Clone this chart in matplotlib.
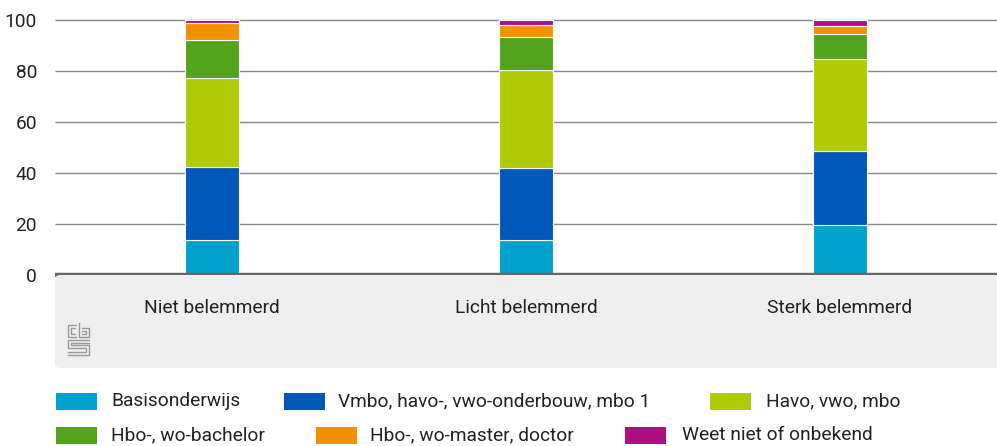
import matplotlib
matplotlib.use("Agg")
import matplotlib.pyplot as plt
from matplotlib.patches import Rectangle, FancyBboxPatch
from matplotlib.lines import Line2D
import matplotlib.transforms as mtransforms
import numpy as np

plt.rcParams['font.family'] = ['Roboto', 'DejaVu Sans']

categories = ["Niet belemmerd", "Licht belemmerd", "Sterk belemmerd"]
series_names = ["Basisonderwijs", "Vmbo, havo-, vwo-onderbouw, mbo 1", "Havo, vwo, mbo",
                "Hbo-, wo-bachelor", "Hbo-, wo-master, doctor", "Weet niet of onbekend"]
basis = [13.6, 13.6, 19.7]
vmbo = [28.9, 28.5, 29.0]
havo = [34.8, 38.3, 36.0]
bachelor = [14.7, 12.9, 9.8]
master = [6.7, 4.6, 3.1]
weetniet = [1.3, 2.1, 2.4]
series = [basis, vmbo, havo, bachelor, master, weetniet]
colors = ["#00a1cd", "#0058b8", "#afcb05", "#53a31d", "#f39200", "#af0e80"]
yticks = [0, 20, 40, 60, 80, 100]

W, H = 997, 446
fig = plt.figure(figsize=(W / 100, H / 100), dpi=100)

def fx(px):
    return px / W

def fy(py):
    return 1 - py / H

ax_left, ax_right, ax_top, ax_bot = 55, 997, 20, 275
ax = fig.add_axes([fx(ax_left), fy(ax_bot), fx(ax_right - ax_left), (ax_bot - ax_top) / H])

# gray band below the axis (drawn in inches so the rounding is circular)
band = FancyBboxPatch((ax_left / 100, (H - 368) / 100), (ax_right - ax_left + 10) / 100, (368 - ax_bot) / 100,
                      boxstyle="round,pad=0,rounding_size=0.05", transform=fig.dpi_scale_trans,
                      facecolor="#efefef", edgecolor="none", zorder=0)
fig.patches.append(band)

x = np.arange(len(categories))
bottom = np.zeros(len(categories))
for vals, col in zip(series, colors):
    ax.bar(x, vals, width=0.17, bottom=bottom, color=col, edgecolor="white", linewidth=0.8, zorder=3)
    bottom += np.array(vals)

ax.set_xlim(-0.5, 2.5)
ax.set_ylim(0, 100)
ax.set_yticks(yticks)
ax.set_yticklabels([str(t) for t in yticks], fontsize=13.8, color="#222222")
ax.tick_params(axis='y', length=0, pad=13)
ax.set_xticks([])
for t in yticks[1:]:
    ax.axhline(t, color="#888888", linewidth=1.0, zorder=1, clip_on=False, solid_capstyle="butt")
ax.axhline(0, color="#666666", linewidth=3.2, zorder=4, clip_on=False, solid_capstyle="butt")
for s in ax.spines.values():
    s.set_visible(False)
ax.patch.set_alpha(0)

trans = mtransforms.blended_transform_factory(ax.transData, fig.transFigure)
for xi, c in zip(x, categories):
    fig.text(xi, fy(308), c, transform=trans, ha="center", va="center", fontsize=13.8, color="#222222")

# CBS logo approximation
lc = "#9a9a9a"
def seg(pts):
    xs = [fx(p[0]) for p in pts]
    ys = [fy(p[1]) for p in pts]
    fig.add_artist(Line2D(xs, ys, color=lc, linewidth=1.0, transform=fig.transFigure))
seg([(76, 325), (68, 325), (68, 337), (76, 337)])
seg([(75, 328), (71, 328), (71, 334), (75, 334)])
seg([(79, 323), (79, 337), (89, 337), (89, 328), (82, 328)])
seg([(82, 331), (86, 331), (86, 334), (82, 334)])
seg([(89, 340), (68, 340), (68, 348), (86, 348), (86, 352), (68, 352)])
seg([(89, 343), (71, 343), (71, 345), (89, 345), (89, 355), (68, 355)])

# legend
row1 = 401
row2 = 435
legend_pos = [(56, 111, row1), (284, 338, row1), (710, 766, row1),
              (56, 111, row2), (316, 370, row2), (625, 682, row2)]
for (sx, tx, ry), name, col in zip(legend_pos, series_names, colors):
    fig.patches.append(Rectangle((fx(sx), fy(ry + 8.5)), fx(41), 17 / H, transform=fig.transFigure,
                                 facecolor=col, edgecolor="none"))
    fig.text(fx(tx), fy(ry), name, ha="left", va="center", fontsize=13.8, color="#222222")

fig.savefig("out.png", dpi=100)
